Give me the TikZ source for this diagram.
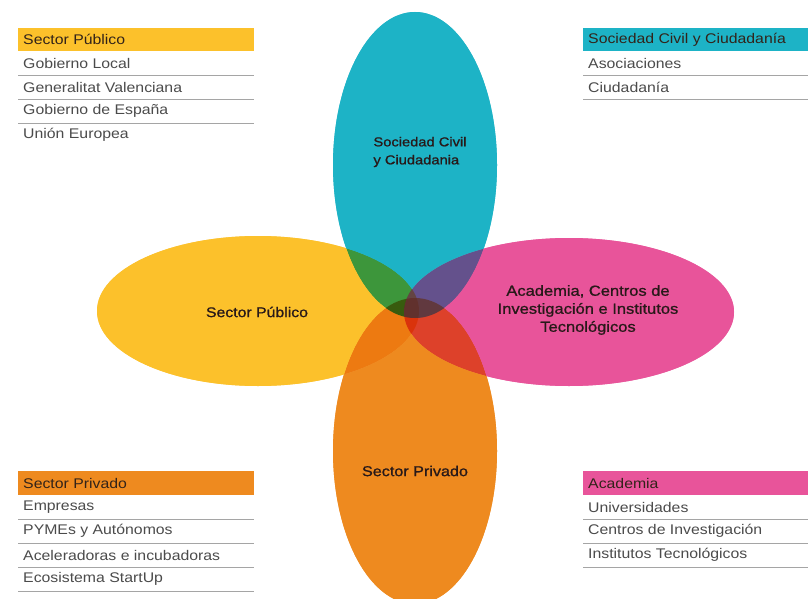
\documentclass[tikz,border=0pt]{standalone}
\usepackage{fontspec}
\setmainfont{Liberation Sans}[FakeStretch=1.13]
\newfontfamily\labelfont{Liberation Sans}[FakeStretch=1.13,FakeBold=1]
\definecolor{cCyan}{RGB}{29,179,198}
\definecolor{cYellow}{RGB}{252,193,43}
\definecolor{cPink}{RGB}{232,84,154}
\definecolor{cOrange}{RGB}{238,138,31}
\definecolor{rowtext}{RGB}{75,75,75}
\definecolor{headtext}{RGB}{50,35,25}
\definecolor{rule}{RGB}{165,165,165}
\definecolor{labeltext}{RGB}{40,25,25}
\tikzset{
  petal/.style={blend mode=multiply, fill opacity=0.85, draw=none},
  solidpetal/.style={draw=none},
  headbar/.style={draw=none},
  headlabel/.style={anchor=west, inner sep=0pt, text=headtext, font=\fontsize{14}{16}\selectfont},
  rowlabel/.style={anchor=west, inner sep=0pt, text=rowtext, font=\fontsize{14}{16}\selectfont},
  rowrule/.style={draw=rule, line width=0.9pt},
  petallabel/.style={inner sep=0pt, text=labeltext, align=center},
}
\begin{document}
\begin{tikzpicture}[x=1pt,y=-1pt]
\useasboundingbox (0,0) rectangle (808,599);
\fill[white] (0,0) rectangle (808,599);

% petals: multiply pass (gives the overlap colours)
\fill[petal, cYellow] (258,311) ellipse (161pt and 75pt);
\fill[petal, cPink] (569,312) ellipse (165pt and 74pt);
\fill[petal, cCyan] (415,165) ellipse (82pt and 153pt);
\fill[petal, cOrange] (415,451) ellipse (82pt and 153pt);

% petals: solid repaint of the parts that overlap nothing
\begin{scope}[even odd rule]
  \clip (0,0) rectangle (808,599) (569,312) ellipse (165pt and 74pt);
  \clip (0,0) rectangle (808,599) (415,165) ellipse (82pt and 153pt);
  \clip (0,0) rectangle (808,599) (415,451) ellipse (82pt and 153pt);
  \fill[solidpetal, cYellow] (258,311) ellipse (161pt and 75pt);
\end{scope}
\begin{scope}[even odd rule]
  \clip (0,0) rectangle (808,599) (258,311) ellipse (161pt and 75pt);
  \clip (0,0) rectangle (808,599) (415,165) ellipse (82pt and 153pt);
  \clip (0,0) rectangle (808,599) (415,451) ellipse (82pt and 153pt);
  \fill[solidpetal, cPink] (569,312) ellipse (165pt and 74pt);
\end{scope}
\begin{scope}[even odd rule]
  \clip (0,0) rectangle (808,599) (258,311) ellipse (161pt and 75pt);
  \clip (0,0) rectangle (808,599) (569,312) ellipse (165pt and 74pt);
  \clip (0,0) rectangle (808,599) (415,451) ellipse (82pt and 153pt);
  \fill[solidpetal, cCyan] (415,165) ellipse (82pt and 153pt);
\end{scope}
\begin{scope}[even odd rule]
  \clip (0,0) rectangle (808,599) (258,311) ellipse (161pt and 75pt);
  \clip (0,0) rectangle (808,599) (569,312) ellipse (165pt and 74pt);
  \clip (0,0) rectangle (808,599) (415,165) ellipse (82pt and 153pt);
  \fill[solidpetal, cOrange] (415,451) ellipse (82pt and 153pt);
\end{scope}
% warmer tint of the cyan/pink overlap
\begin{scope}
  \clip (415,165) ellipse (82pt and 153pt);
  \fill[cPink, fill opacity=0.25] (569,312) ellipse (165pt and 74pt);
\end{scope}

% petal labels
\node[petallabel, align=left, font=\labelfont\fontsize{13}{18}\selectfont] (lblCivil) at (420,152) {Sociedad Civil\\y Ciudadania};
\node[petallabel, font=\labelfont\fontsize{14}{18}\selectfont] (lblPub) at (257,312) {Sector Público};
\node[petallabel, font=\labelfont\fontsize{14.6}{18}\selectfont] (lblAcad) at (588,310) {Academia, Centros de\\Investigación e Institutos\\Tecnológicos};
\node[petallabel, font=\labelfont\fontsize{14.3}{18}\selectfont] (lblPriv) at (415,471) {Sector Privado};

% Top-left table
\fill[headbar, cYellow] (18,28) rectangle (254,51);
\node[headlabel] (tlH) at (23,39.5) {Sector Público};
\node[rowlabel] (tl1) at (23,63) {Gobierno Local};
\node[rowlabel] (tl2) at (23,87) {Generalitat Valenciana};
\node[rowlabel] (tl3) at (23,111) {Gobierno de España};
\node[rowlabel] (tl4) at (23,135) {Unión Europea};
\draw[rowrule] (18,75) -- (254,75);
\draw[rowrule] (18,99) -- (254,99);
\draw[rowrule] (18,123) -- (254,123);

% Top-right table
\fill[headbar, cCyan] (583,28) rectangle (808,51);
\node[headlabel] (trH) at (588,39.5) {Sociedad Civil y Ciudadanía};
\node[rowlabel] (tr1) at (588,63) {Asociaciones};
\node[rowlabel] (tr2) at (588,87) {Ciudadanía};
\draw[rowrule] (583,75) -- (808,75);
\draw[rowrule] (583,99) -- (808,99);

% Bottom-left table
\fill[headbar, cOrange] (18,471) rectangle (254,495);
\node[headlabel] (blH) at (23,483) {Sector Privado};
\node[rowlabel] (bl1) at (23,507) {Empresas};
\node[rowlabel] (bl2) at (23,531) {PYMEs y Autónomos};
\node[rowlabel] (bl3) at (23,555) {Aceleradoras e incubadoras};
\node[rowlabel] (bl4) at (23,579) {Ecosistema StartUp};
\draw[rowrule] (18,519) -- (254,519);
\draw[rowrule] (18,543) -- (254,543);
\draw[rowrule] (18,567) -- (254,567);
\draw[rowrule] (18,591) -- (254,591);

% Bottom-right table
\fill[headbar, cPink] (583,471) rectangle (808,495);
\node[headlabel] (brH) at (588,483) {Academia};
\node[rowlabel] (br1) at (588,507) {Universidades};
\node[rowlabel] (br2) at (588,531) {Centros de Investigación};
\node[rowlabel] (br3) at (588,555) {Institutos Tecnológicos};
\draw[rowrule] (583,519) -- (808,519);
\draw[rowrule] (583,543) -- (808,543);
\draw[rowrule] (583,567) -- (808,567);
\end{tikzpicture}
\end{document}
